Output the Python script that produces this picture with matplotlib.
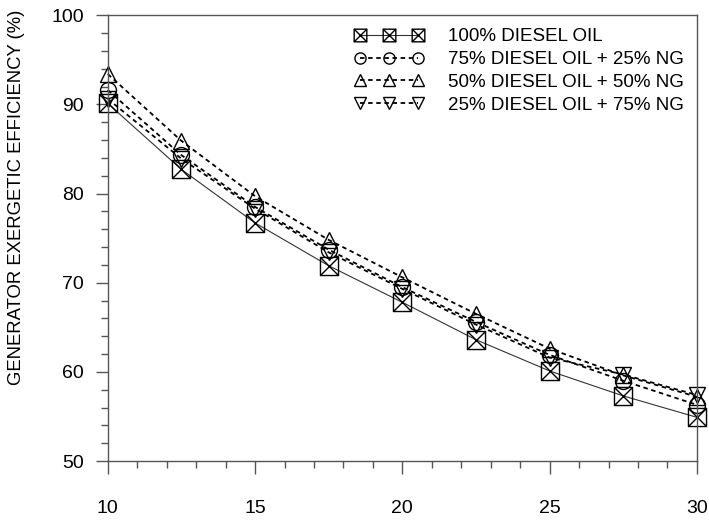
import matplotlib.pyplot as plt
import numpy as np
from matplotlib.path import Path
from matplotlib.ticker import MultipleLocator

plt.rcParams['font.family'] = ['Liberation Sans', 'DejaVu Sans']

# Load values
load = [10, 12.5, 15, 17.5, 20, 22.5, 25, 27.5, 30]
diesel_100 = [90.1, 82.7, 76.7, 71.9, 67.8, 63.6, 60.1, 57.3, 54.9]
diesel_75_ng_25 = [91.6, 84.3, 78.5, 73.7, 69.5, 65.6, 61.9, 59.0, 56.3]
diesel_50_ng_50 = [93.4, 85.9, 79.7, 74.8, 70.6, 66.5, 62.6, 59.6, 57.2]
diesel_25_ng_75 = [90.6, 83.9, 78.3, 73.4, 69.3, 65.3, 61.6, 59.7, 57.4]

labels = ['100% DIESEL OIL',
          '75% DIESEL OIL + 25% NG',
          '50% DIESEL OIL + 50% NG',
          '25% DIESEL OIL + 75% NG']

# square with a cross inside
box_x = Path([(-1, -1), (1, -1), (1, 1), (-1, 1), (-1, -1),
              (-1, -1), (1, 1), (-1, 1), (1, -1)],
             [Path.MOVETO, Path.LINETO, Path.LINETO, Path.LINETO, Path.CLOSEPOLY,
              Path.MOVETO, Path.LINETO, Path.MOVETO, Path.LINETO])

fig = plt.figure(figsize=(7.09, 5.23), dpi=100)
ax = fig.add_axes([0.152, 0.1185, 0.831, 0.8525])

mk = dict(markerfacecolor='none', markeredgecolor='black', markeredgewidth=1.0,
          clip_on=False)
dash = (0, (2.5, 2))

ax.plot(load, diesel_100, color='#333333', lw=0.8, marker=box_x, ms=13,
        label=labels[0], **mk)
ax.plot(load, diesel_75_ng_25, color='black', lw=1.3, ls=dash, marker='o', ms=11.5,
        label=labels[1], **mk)
ax.plot(load, diesel_50_ng_50, color='black', lw=1.3, ls=dash, marker='^', ms=12,
        label=labels[2], **mk)
ax.plot(load, diesel_25_ng_75, color='black', lw=1.3, ls=dash, marker='v', ms=12,
        label=labels[3], **mk)

ax.set_xlim(10, 30)
ax.set_ylim(50, 100)
ax.xaxis.set_major_locator(MultipleLocator(5))
ax.xaxis.set_minor_locator(MultipleLocator(1))
ax.yaxis.set_major_locator(MultipleLocator(10))
ax.yaxis.set_minor_locator(MultipleLocator(2))

for s in ax.spines.values():
    s.set_color('#555555')
    s.set_linewidth(1.0)
ax.tick_params(which='both', direction='out', color='#555555', width=1.0,
               labelsize=14, top=False, right=False)
ax.tick_params(which='major', length=9)
ax.tick_params(which='minor', length=5)
ax.tick_params(axis='x', which='major', pad=19)
ax.tick_params(axis='y', which='major', pad=8)

ax.set_ylabel('GENERATOR EXERGETIC EFFICIENCY (%)', fontsize=13.3)
ax.yaxis.set_label_coords(-0.141, 0.592)

ax.legend(loc='upper right', frameon=False, numpoints=3, fontsize=13.5,
          markerscale=0.7, handlelength=3.7, handletextpad=1.28,
          labelspacing=0.3, borderaxespad=0.3, bbox_to_anchor=(1.0, 1.0))

fig.savefig('out.png', dpi=100)
